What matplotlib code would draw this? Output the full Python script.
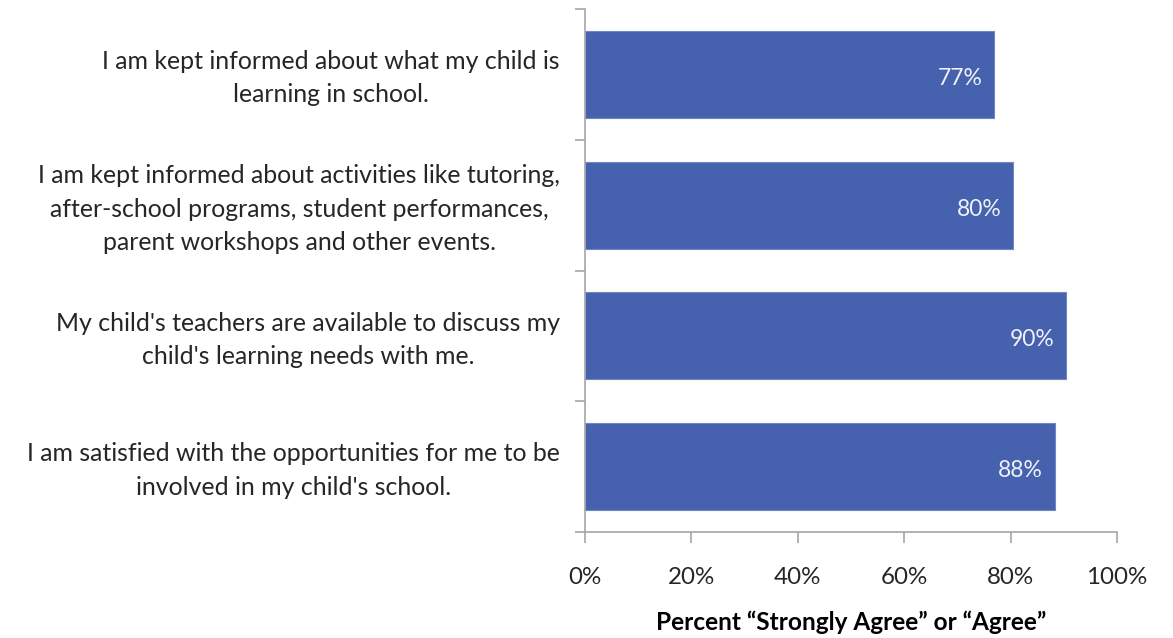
import matplotlib.pyplot as plt
from matplotlib.ticker import FixedLocator, PercentFormatter

plt.rcParams['font.family'] = ['Lato', 'DejaVu Sans']

statements = [
    "I am kept informed about what my child is\nlearning in school.",
    "I am kept informed about activities like tutoring,\nafter-school programs, student performances,\nparent workshops and other events.",
    "My child's teachers are available to discuss my\nchild's learning needs with me.",
    "I am satisfied with the opportunities for me to be\ninvolved in my child's school.",
]
values = [76.9, 80.5, 90.4, 88.3]
value_labels = ["77%", "80%", "90%", "88%"]
x_ticks = [0, 20, 40, 60, 80, 100]

bar_color = "#4661AE"
axis_color = "#A6A6A6"
text_color = "#262626"

fig = plt.figure(figsize=(11.73, 6.38), dpi=100)
ax = fig.add_axes([0.4987, 0.1661, 0.4536, 0.8198])

n = len(statements)
ypos = list(range(n))
ax.barh(ypos, values, height=0.665, color=bar_color, edgecolor="#6F86C4", linewidth=0.8)

ax.set_ylim(n - 0.5, -0.5)
ax.set_xlim(0, 100)

# text sits a touch below the bar centre in the original
dy = 0.03
for y, v, lab in zip(ypos, values, value_labels):
    ax.text(v - 2.2, y + dy, lab, ha="right", va="center", color="#EEF1F8", fontsize=16.5)

# category labels: block right aligned at the axis, lines centred
ax.set_yticks([])
for y, s in zip(ypos, statements):
    ax.text(-4.7, y + dy, s, ha="right", va="center", multialignment="center",
            color=text_color, fontsize=17.9, linespacing=1.54, clip_on=False)

# y ticks at category boundaries
ax.yaxis.set_major_locator(FixedLocator([i - 0.5 for i in range(n + 1)]))
ax.set_yticklabels([])
ax.tick_params(axis="y", length=7, width=1.2, color=axis_color, direction="out")

ax.set_xticks(x_ticks)
ax.xaxis.set_major_formatter(PercentFormatter(decimals=0))
ax.tick_params(axis="x", length=8, width=1.2, color=axis_color, direction="out",
               labelsize=17.4, labelcolor=text_color, pad=17)

for side in ["top", "right"]:
    ax.spines[side].set_visible(False)
for side in ["left", "bottom"]:
    ax.spines[side].set_color(axis_color)
    ax.spines[side].set_linewidth(1.2)

ax.set_xlabel("Percent \u201cStrongly Agree\u201d or \u201cAgree\u201d", fontsize=17.6,
              fontweight="bold", color="black", labelpad=16.5)

fig.savefig("out.png", dpi=100, facecolor="white")
